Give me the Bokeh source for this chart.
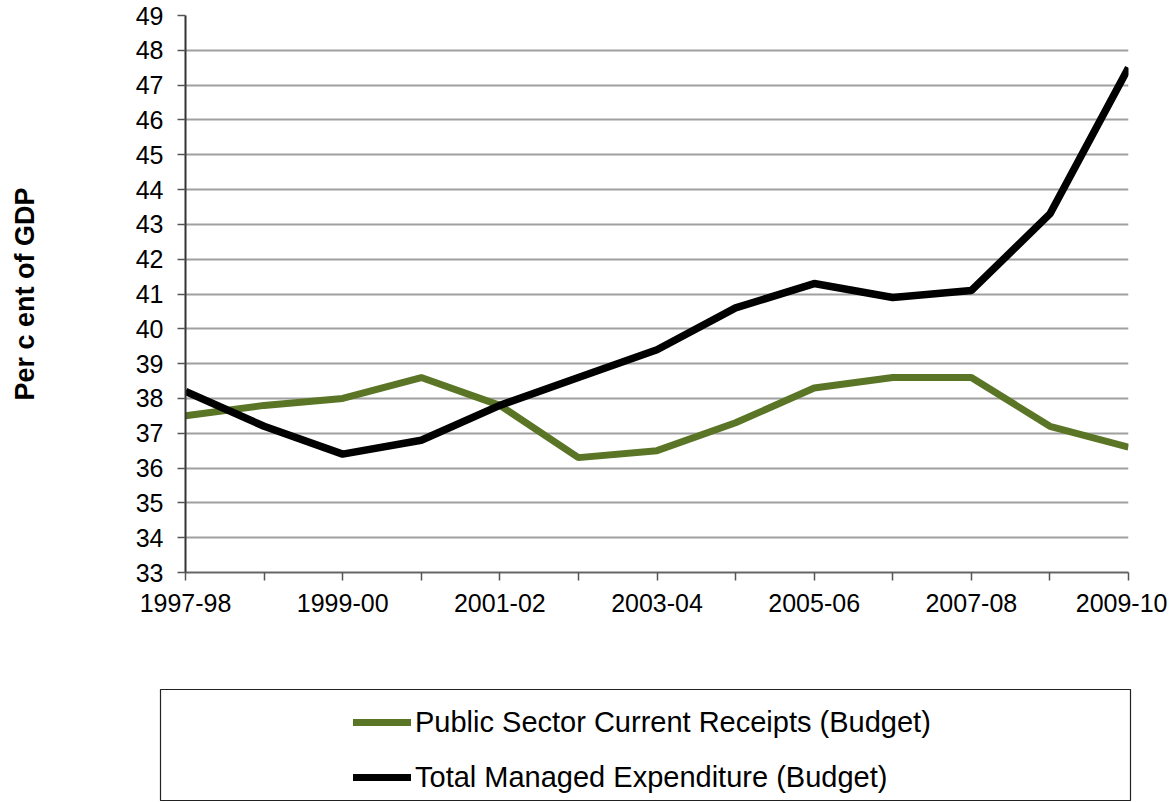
from bokeh.plotting import figure
from bokeh.models import FixedTicker, Range1d, Legend, LegendItem, ColumnDataSource
from bokeh.embed import file_html
from bokeh.resources import INLINE

years = ["1997-98", "1998-99", "1999-00", "2000-01", "2001-02", "2002-03", "2003-04",
         "2004-05", "2005-06", "2006-07", "2007-08", "2008-09", "2009-10"]
receipts = [37.5, 37.8, 38.0, 38.6, 37.8, 36.3, 36.5, 37.3, 38.3, 38.6, 38.6, 37.2, 36.6]
expenditure = [38.2, 37.2, 36.4, 36.8, 37.8, 38.6, 39.4, 40.6, 41.3, 40.9, 41.1, 43.3, 47.5]
y_ticks = list(range(33, 50))
y_title = "Per c ent of GDP"
receipts_label = "Public Sector Current Receipts (Budget)"
expenditure_label = "Total Managed Expenditure (Budget)"

GREEN = "#5A7526"
FONT = "Liberation Sans"

xs = list(range(len(years)))
src = ColumnDataSource(dict(x=xs, rec=receipts, exp=expenditure))

W = 1167
p = figure(width=W, height=648, output_backend="svg", toolbar_location=None,
           x_range=Range1d(0, len(years) - 1), y_range=Range1d(33, 49),
           min_border_left=185, min_border_right=W - 1128, min_border_top=15,
           min_border_bottom=648 - 572)
p.outline_line_color = None
p.background_fill_color = "white"
p.border_fill_color = "white"

p.line("x", "rec", source=src, line_color=GREEN, line_width=7)
p.line("x", "exp", source=src, line_color="black", line_width=7.5)

# axes
p.xaxis.ticker = FixedTicker(ticks=xs)
p.xaxis.major_label_overrides = {i: (years[i] if i % 2 == 0 else "") for i in xs}
p.yaxis.ticker = FixedTicker(ticks=y_ticks)
for ax in (p.xaxis, p.yaxis):
    ax.major_label_text_font = FONT
    ax.major_label_text_font_size = "25px"
    ax.major_label_text_color = "black"
    ax.minor_tick_line_color = None
    ax.major_tick_in = 0
    ax.major_tick_out = 8
    ax.major_tick_line_color = "#555555"
    ax.major_tick_line_width = 1.5
    ax.axis_line_width = 2
p.xaxis.axis_line_color = "#666666"
p.yaxis.axis_line_color = "#333333"
p.xaxis.major_label_standoff = 13
p.yaxis.major_label_standoff = 14
p.yaxis.axis_label = y_title
p.yaxis.axis_label_text_font = FONT
p.yaxis.axis_label_text_font_style = "bold"
p.yaxis.axis_label_text_font_size = "27px"
p.yaxis.axis_label_text_color = "black"
p.yaxis.axis_label_standoff = 93

p.xgrid.grid_line_color = None
p.ygrid.grid_line_color = "#A0A0A0"
p.ygrid.grid_line_width = 2

# legend panel (separate root so its frame is not aligned with the chart's)
p2 = figure(width=W, height=154, output_backend="svg", toolbar_location=None,
            x_range=Range1d(100, 101), y_range=Range1d(100, 101),
            x_axis_location=None, y_axis_location=None,
            min_border_left=160, min_border_right=W - 1130, min_border_top=41,
            min_border_bottom=2)
p2.grid.visible = False
p2.outline_line_color = "#222222"
p2.outline_line_width = 1.2
p2.border_fill_color = "white"

# proxies: same data, outside this panel's visible ranges
r1 = p2.line("x", "rec", source=src, line_color=GREEN, line_width=7, line_cap="round")
r2 = p2.line("x", "exp", source=src, line_color="black", line_width=7, line_cap="round")

legend = Legend(items=[LegendItem(label=receipts_label, renderers=[r1]),
                       LegendItem(label=expenditure_label, renderers=[r2])],
                location=(193, 3), padding=0, margin=0, spacing=15,
                glyph_width=58, glyph_height=40, label_height=40,
                label_standoff=4, border_line_alpha=0, background_fill_alpha=0,
                label_text_font=FONT, label_text_font_size="29px",
                label_text_color="black")
p2.add_layout(legend)

open("out.html", "w").write(file_html([p, p2], INLINE))
